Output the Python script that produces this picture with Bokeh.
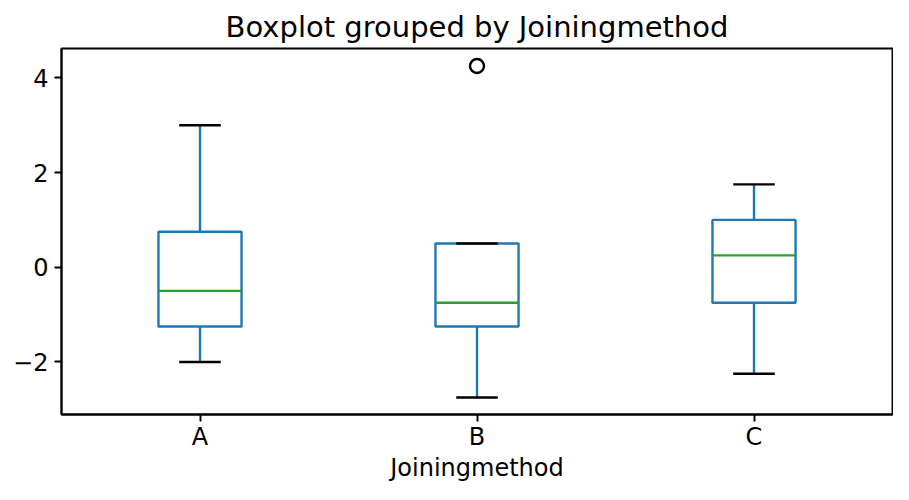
from bokeh.plotting import figure
from bokeh.models import Range1d, FixedTicker
from bokeh.embed import file_html
from bokeh.resources import INLINE

categories = ["A", "B", "C"]
whisker_low = [-2.0, -2.75, -2.25]
q1 = [-1.25, -1.25, -0.75]
median = [-0.5, -0.75, 0.25]
q3 = [0.75, 0.5, 1.0]
whisker_high = [3.0, 0.5, 1.75]
outlier_cat = ["B"]
outlier_val = [4.25]
y_ticks = [-2, 0, 2, 4]

FONT = "DejaVu Sans"
BLUE = "#1f77b4"
GREEN = "#2ca02c"

pos = [i + 1 for i in range(len(categories))]
bw = 0.3
cw = 0.15

p = figure(width=893, height=484, output_backend="svg", toolbar_location=None,
           x_range=Range1d(0.5, 3.5), y_range=Range1d(-3.11, 4.62),
           title="Boxplot grouped by Joiningmethod",
           min_border_left=61, min_border_right=1, min_border_bottom=60, min_border_top=48)
p.grid.visible = False
p.outline_line_color = "black"
p.outline_line_width = 1.9
p.background_fill_color = "white"
p.border_fill_color = "white"

p.title.align = "center"
p.title.text_font = FONT
p.title.text_font_size = "29px"
p.title.text_font_style = "normal"
p.title.text_color = "black"

p.xaxis.ticker = FixedTicker(ticks=pos)
p.xaxis.major_label_overrides = {c: l for c, l in zip(pos, categories)}
p.yaxis.ticker = FixedTicker(ticks=y_ticks)
p.yaxis.major_label_overrides = {t: (("\u2212" + str(-t)) if t < 0 else str(t)) for t in y_ticks}
p.xaxis.axis_label = "Joiningmethod"

for ax in (p.xaxis, p.yaxis):
    ax.axis_line_color = "black"
    ax.axis_line_width = 1.9
    ax.major_tick_line_color = "black"
    ax.major_tick_line_width = 1.9
    ax.major_tick_out = 7
    ax.major_tick_in = 0
    ax.minor_tick_line_color = None
    ax.major_label_text_font = FONT
    ax.major_label_text_font_size = "24px"
    ax.major_label_text_color = "black"
    ax.axis_label_text_font = FONT
    ax.axis_label_text_font_size = "24px"
    ax.axis_label_text_font_style = "normal"
    ax.axis_label_text_color = "black"
p.xaxis.major_label_standoff = 1
p.yaxis.major_label_standoff = 6
p.xaxis.axis_label_standoff = 0

# whiskers
p.segment(x0=pos, y0=q3, x1=pos, y1=whisker_high, line_color=BLUE, line_width=2.4)
p.segment(x0=pos, y0=whisker_low, x1=pos, y1=q1, line_color=BLUE, line_width=2.4)
# boxes
p.quad(left=[x - bw / 2 for x in pos], right=[x + bw / 2 for x in pos],
       bottom=q1, top=q3, fill_color=None, line_color=BLUE, line_width=2.4)
# caps
p.segment(x0=[x - cw / 2 for x in pos], y0=whisker_high, x1=[x + cw / 2 for x in pos],
          y1=whisker_high, line_color="black", line_width=2.4)
p.segment(x0=[x - cw / 2 for x in pos], y0=whisker_low, x1=[x + cw / 2 for x in pos],
          y1=whisker_low, line_color="black", line_width=2.4)
# medians
p.segment(x0=[x - bw / 2 for x in pos], y0=median, x1=[x + bw / 2 for x in pos],
          y1=median, line_color=GREEN, line_width=2.4)
# outliers
ox = [pos[categories.index(c)] for c in outlier_cat]
p.scatter(x=ox, y=outlier_val, size=14, marker="circle", fill_color=None,
          line_color="black", line_width=2.4)

open("out.html", "w").write(file_html(p, INLINE))
